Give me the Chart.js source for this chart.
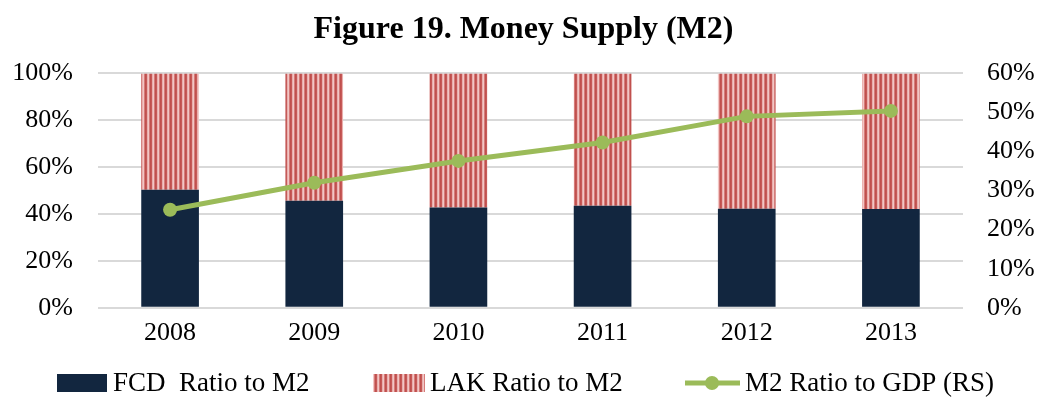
<!DOCTYPE html>
<html>
<head>
<meta charset="utf-8">
<script src="https://cdn.jsdelivr.net/npm/chart.js@4.4.1/dist/chart.umd.min.js"></script>
<style>
  html, body { margin: 0; padding: 0; background: #fff; }
  #wrap { width: 1039px; height: 402px; position: relative; }
</style>
</head>
<body>
<div id="wrap"><canvas id="chart" width="1039" height="402"></canvas></div>
<script>
/* ===== Figure 19: Money Supply (M2) ===== */

const years = ['2008', '2009', '2010', '2011', '2012', '2013'];
const fcdShare = [50.4, 45.7, 42.8, 43.5, 42.3, 42.2];      // % of M2
const lakShare = [49.6, 54.3, 57.2, 56.5, 57.7, 57.8];      // % of M2
const m2ToGdp = [25.1, 32.0, 37.6, 42.3, 49.0, 50.4];       // % of GDP, right scale
const seriesNames = ['FCD  Ratio to M2', 'LAK Ratio to M2', 'M2 Ratio to GDP (RS)'];

const NAVY = '#12263f';
const GREEN = '#9bbb59';
const FONT = '"Liberation Serif", "Times New Roman", serif';

// vertical red / pink stripes used for the LAK bars
function makeStripes() {
  const c = document.createElement('canvas');
  c.width = 5; c.height = 4;
  const g = c.getContext('2d');
  const cols = ['#c0504d', '#c65a58', '#e9aeac', '#f2c6c5', '#d57c7a'];
  cols.forEach((col, i) => { g.fillStyle = col; g.fillRect(i, 0, 1, 4); });
  return c;
}
const stripeTile = makeStripes();
const ctx = document.getElementById('chart').getContext('2d');
const stripes = ctx.createPattern(stripeTile, 'repeat');

/**
 * Bottom legend drawn by hand so all three items stay on one row.
 */
const rowLegend = {
  id: 'rowLegend',
  afterDraw(chart) {
    const g = chart.ctx;
    const cy = 383;
    // [swatch left, text left]
    const slots = [[57, 113], [373, 430], [685, 745]];
    g.save();
    g.font = '27px ' + FONT;
    g.fillStyle = '#000';
    g.textBaseline = 'middle';
    slots.forEach(([sx, tx], i) => {
      if (i === 0) {
        g.fillStyle = NAVY;
        g.fillRect(sx, cy - 9, 50, 18);
      } else if (i === 1) {
        g.fillStyle = stripes;
        g.fillRect(sx, cy - 9, 52, 18);
      } else {
        g.strokeStyle = GREEN;
        g.lineWidth = 5;
        g.beginPath(); g.moveTo(sx, cy); g.lineTo(sx + 55, cy); g.stroke();
        g.fillStyle = GREEN;
        g.beginPath(); g.arc(sx + 27, cy, 7, 0, Math.PI * 2); g.fill();
      }
      g.fillStyle = '#000';
      g.fillText(seriesNames[i], tx, cy + 1);
    });
    g.restore();
  }
};

new Chart(ctx, {
  type: 'bar',
  data: {
    labels: years,
    datasets: [
      {
        label: seriesNames[0],
        data: fcdShare,
        backgroundColor: NAVY,
        yAxisID: 'y',
        stack: 'm2',
        order: 2,
        categoryPercentage: 1,
        barPercentage: 0.4
      },
      {
        label: seriesNames[1],
        data: lakShare,
        backgroundColor: stripes,
        yAxisID: 'y',
        stack: 'm2',
        order: 2,
        categoryPercentage: 1,
        barPercentage: 0.4
      },
      {
        type: 'line',
        label: seriesNames[2],
        data: m2ToGdp,
        borderColor: GREEN,
        backgroundColor: GREEN,
        borderWidth: 5,
        pointRadius: 7,
        pointBackgroundColor: GREEN,
        pointBorderWidth: 0,
        tension: 0,
        yAxisID: 'y1',
        order: 0
      }
    ]
  },
  plugins: [rowLegend],
  options: {
    responsive: false,
    animation: false,
    layout: { padding: { left: 10, right: 2, top: 0, bottom: 51 } },
    plugins: {
      title: {
        display: true,
        text: 'Figure 19. Money Supply (M2)',
        color: '#000',
        font: { family: FONT, size: 32, weight: 'bold' },
        padding: { top: 11, bottom: 24 }
      },
      legend: { display: false },
      tooltip: { enabled: false }
    },
    scales: {
      x: {
        stacked: true,
        grid: { display: false },
        border: { display: false },
        ticks: { color: '#000', font: { family: FONT, size: 26 }, padding: 2 }
      },
      y: {
        stacked: true,
        position: 'left',
        min: 0,
        max: 100,
        afterFit: s => { s.width = 88; },
        grid: { color: '#d9d9d9', lineWidth: 2, drawTicks: false },
        border: { display: false },
        ticks: {
          stepSize: 20,
          padding: 25,
          autoSkip: false,
          color: '#000',
          font: { family: FONT, size: 26 },
          callback: v => v + '%'
        }
      },
      y1: {
        stacked: false,
        position: 'right',
        min: 0,
        max: 60,
        afterFit: s => { s.width = 74; },
        grid: { display: false, drawTicks: false },
        border: { display: false },
        ticks: {
          stepSize: 10,
          padding: 24,
          autoSkip: false,
          color: '#000',
          font: { family: FONT, size: 26 },
          callback: v => v + '%'
        }
      }
    }
  }
});
</script>
</body>
</html>
